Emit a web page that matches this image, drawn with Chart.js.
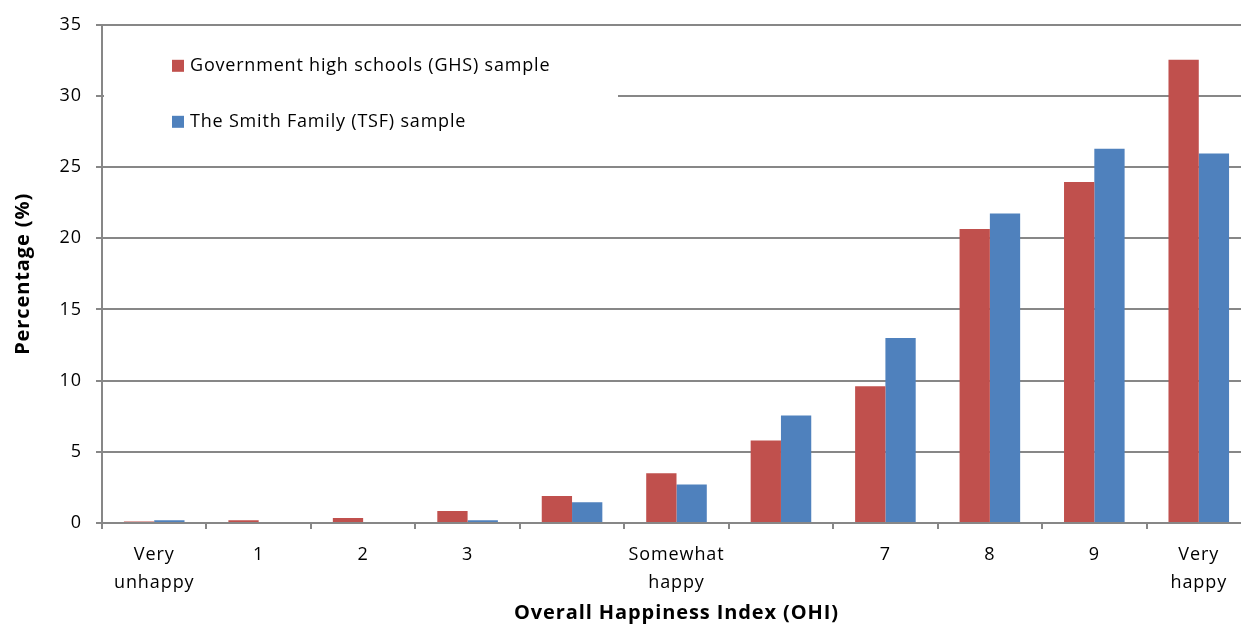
<!DOCTYPE html>
<html>
<head>
<meta charset="utf-8">
<script src="https://cdn.jsdelivr.net/npm/chart.js@4/dist/chart.umd.min.js"></script>
<style>
  html, body { margin: 0; padding: 0; background: #ffffff; overflow: hidden; }
  #wrap { position: relative; width: 1254px; height: 625px; }
  canvas { display: block; }
</style>
</head>
<body>
<div id="wrap"><canvas id="chart" width="1254" height="625"></canvas></div>
<script>
// OHI response categories (blank entries are unlabelled scale points)
const categories = [
  ["Very", "unhappy"], "1", "2", "3", "", ["Somewhat", "happy"], "", "7", "8", "9", ["Very", "happy"]
];
const seriesNames = [
  "Government high schools (GHS) sample",
  "The Smith Family (TSF) sample"
];
// Percentage of respondents in each category
const ghsValues = [0.1, 0.2, 0.35, 0.85, 1.9, 3.5, 5.8, 9.6, 20.65, 23.95, 32.55];
const tsfValues = [0.2, 0, 0, 0.2, 1.45, 2.7, 7.55, 13.0, 21.75, 26.3, 25.95];
const yMin = 0, yMax = 35, yStep = 5;

const FONT = "'Open Sans', Lato, sans-serif";
const RED = "#C0504D";
const BLUE = "#4F81BD";
const GRID = "#878787";

// Slightly spaced lettering for all chart text
const spacedText = {
  id: "spacedText",
  beforeDraw(chart) { chart.ctx.letterSpacing = "0.9px"; }
};

// Legend drawn inside the plot area on a white panel
const insideLegend = {
  id: "insideLegend",
  afterDatasetsDraw(chart) {
    const ctx = chart.ctx;
    const area = chart.chartArea;
    ctx.save();
    ctx.fillStyle = "#ffffff";
    ctx.fillRect(area.left + 2, area.top + 14, 514, 120);
    ctx.font = "18px " + FONT;
    ctx.letterSpacing = "0.8px";
    ctx.textBaseline = "middle";
    ctx.textAlign = "left";
    chart.data.datasets.forEach((ds, i) => {
      const y = area.top + 41 + i * 56;
      ctx.fillStyle = ds.backgroundColor;
      ctx.fillRect(area.left + 70, y - 6, 12, 12);
      ctx.fillStyle = "#000000";
      ctx.fillText(ds.label, area.left + 88, y);
    });
    ctx.restore();
  }
};

new Chart(document.getElementById("chart"), {
  type: "bar",
  data: {
    labels: categories,
    datasets: [
      { label: seriesNames[0], data: ghsValues, backgroundColor: RED },
      { label: seriesNames[1], data: tsfValues, backgroundColor: BLUE }
    ]
  },
  options: {
    responsive: false,
    animation: false,
    devicePixelRatio: 1,
    layout: { padding: { top: 21, right: 3, left: 0, bottom: 0 } },
    datasets: { bar: { categoryPercentage: 0.58, barPercentage: 1.0 } },
    plugins: {
      legend: { display: false },
      tooltip: { enabled: false }
    },
    scales: {
      x: {
        grid: {
          display: true,
          drawOnChartArea: false,
          drawTicks: true,
          tickLength: 6,
          offset: true,
          color: GRID,
          lineWidth: 2
        },
        border: { color: GRID, width: 2 },
        ticks: {
          color: "#000000",
          font: { family: FONT, size: 18, lineHeight: 1.55 },
          padding: 12,
          maxRotation: 0,
          autoSkip: false
        },
        title: {
          display: true,
          text: "Overall Happiness Index (OHI)",
          color: "#000000",
          font: { family: FONT, size: 20, weight: "bold" },
          padding: { top: 6, bottom: 0 }
        },
        afterFit(scale) { scale.height = 102; }
      },
      y: {
        min: yMin,
        max: yMax,
        ticks: {
          stepSize: yStep,
          color: "#000000",
          font: { family: FONT, size: 18 },
          padding: 14
        },
        grid: {
          color: GRID,
          lineWidth: 2,
          tickLength: 6
        },
        border: { color: GRID, width: 2 },
        title: {
          display: true,
          text: "Percentage (%)",
          color: "#000000",
          font: { family: FONT, size: 20, weight: "bold" },
          padding: { top: 11, bottom: 0 }
        },
        afterFit(scale) { scale.width = 102; }
      }
    }
  },
  plugins: [spacedText, insideLegend]
});
</script>
</body>
</html>
